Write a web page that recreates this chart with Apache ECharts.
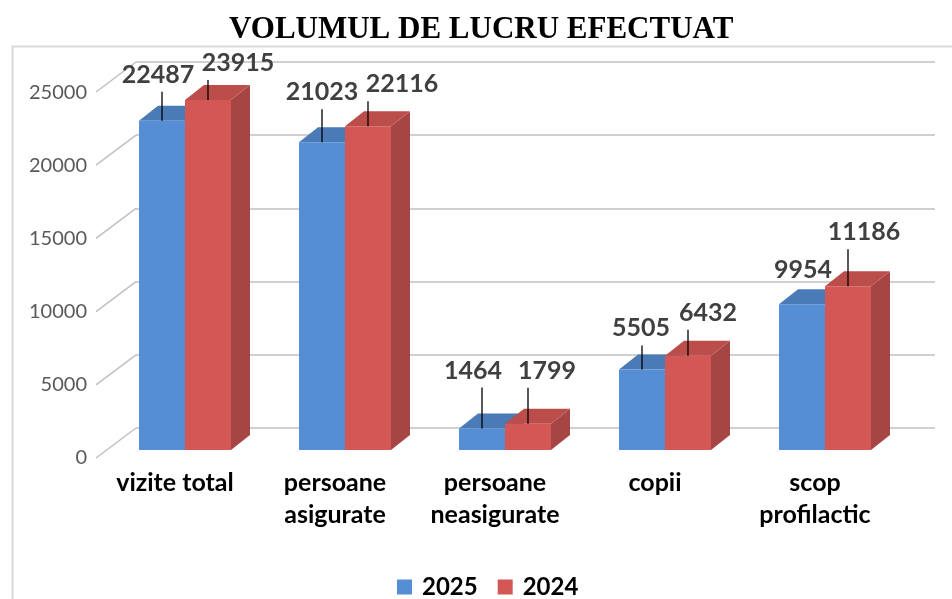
<!DOCTYPE html>
<html>
<head>
<meta charset="utf-8">
<script src="https://cdn.jsdelivr.net/npm/echarts@6/dist/echarts.min.js"></script>
<style>
  html, body { margin: 0; padding: 0; background: #fff; }
  #myChart { width: 952px; height: 599px; }
</style>
</head>
<body>
<div id="myChart"></div>
<script>
var categories = ['vizite total', 'persoane\nasigurate', 'persoane\nneasigurate', 'copii', 'scop\nprofilactic'];
var values2025 = [22487, 21023, 1464, 5505, 9954];
var values2024 = [23915, 22116, 1799, 6432, 11186];
var yTicks = [0, 5000, 10000, 15000, 20000, 25000];

var myChart = echarts.init(document.getElementById('myChart'));

// fake 3d: bar depth, and offset from the front floor edge to the back wall
var depthX = 19, depthY = 15;
var wallX = 40, wallY = 30;
var barW = 46;

// the labels were dragged around by hand in the original, so keep their shift here
var labelShift2025 = [[-4, -46], [0, -50], [-9, -58], [-1, -41], [1, -34]];
var labelShift2024 = [[30, -37], [34, -42], [19, -53], [20, -43], [16, -54]];

var blue = { front: '#558ed5', top: '#4a7bb7', side: '#3f6aa0' };
var red = { front: '#d25755', top: '#bb4d4a', side: '#a64644' };

function bar3d(side, colors, shifts) {
  return function (params, api) {
    var i = api.value(0);
    var v = api.value(1);
    var top = api.coord([i, v]);
    var base = api.coord([i, 0]);
    var x0 = side === 0 ? top[0] - barW : top[0];
    var x1 = x0 + barW;
    var y0 = top[1], y1 = base[1];
    var cx = (x0 + x1) / 2;
    var sh = shifts[params.dataIndex];
    var kids = [
      { type: 'polygon', shape: { points: [[x1, y0], [x1 + depthX, y0 - depthY], [x1 + depthX, y1 - depthY], [x1, y1]] }, style: { fill: colors.side } },
      { type: 'polygon', shape: { points: [[x0, y0], [x0 + depthX, y0 - depthY], [x1 + depthX, y0 - depthY], [x1, y0]] }, style: { fill: colors.top } },
      { type: 'rect', shape: { x: x0, y: y0, width: barW, height: y1 - y0 }, style: { fill: colors.front } }
    ];
    if (sh[1] < -35) {
      kids.push({ type: 'line', shape: { x1: cx, y1: y0 + sh[1] + 17, x2: cx, y2: y0 }, style: { stroke: '#000', lineWidth: 1.3 } });
    }
    kids.push({
      type: 'text', x: cx + sh[0], y: y0 + sh[1],
      style: { text: String(v), fontFamily: 'Lato', fontWeight: 'bold', fontSize: 25, fill: '#404040', align: 'center', verticalAlign: 'middle' }
    });
    return { type: 'group', children: kids };
  };
}

let option = {
  animation: false,
  title: {
    text: 'VOLUMUL DE LUCRU EFECTUAT',
    left: 224,
    top: 9,
    textStyle: { fontFamily: 'Liberation Serif', fontWeight: 'bold', fontSize: 31, color: '#000' }
  },
  graphic: [{
    type: 'rect', left: 10, top: 44, z: -10,
    shape: { width: 960, height: 600 },
    style: { fill: 'none', stroke: '#d9d9d9', lineWidth: 2 }
  }],
  legend: {
    data: ['2025', '2024'],
    left: 392,
    top: 570,
    icon: 'rect',
    itemWidth: 15,
    itemHeight: 15,
    itemGap: 20,
    textStyle: { fontFamily: 'Lato', fontWeight: 'bold', fontSize: 24, color: '#000', lineHeight: 24, padding: [0, 0, 0, 5] }
  },
  grid: [
    // back wall
    { left: 136, right: 17, top: 62, bottom: 171 },
    // front plane, axis labels
    { left: 95, right: 57, top: 93, bottom: 141 },
    // bar front faces
    { left: 105, right: 47, top: 84, bottom: 149 }
  ],
  xAxis: [
    { gridIndex: 0, type: 'value', min: 0, max: 1, show: false },
    {
      gridIndex: 1, type: 'category', data: categories,
      axisLine: { show: false }, axisTick: { show: false },
      axisLabel: { margin: 9, interval: 0, fontFamily: 'Lato', fontWeight: 'bold', fontSize: 25, lineHeight: 32, color: '#000' }
    },
    { gridIndex: 2, type: 'category', data: categories, show: false }
  ],
  yAxis: [
    {
      gridIndex: 0, type: 'value', min: 0, max: 25000, interval: 5000,
      axisLine: { show: false }, axisTick: { show: false }, axisLabel: { show: false },
      splitLine: { lineStyle: { color: '#c0c0c0', width: 1.5 } }
    },
    {
      gridIndex: 1, type: 'value', min: 0, max: 25000, interval: 5000,
      axisLine: { show: false }, axisTick: { show: false }, splitLine: { show: false },
      axisLabel: { margin: 8, fontFamily: 'Lato', fontSize: 20, color: '#595959', formatter: function (v) { return String(v); } }
    },
    { gridIndex: 2, type: 'value', min: 0, max: 25000, show: false }
  ],
  series: [
    {
      name: 'walls',
      type: 'custom',
      xAxisIndex: 0, yAxisIndex: 0,
      silent: true,
      data: yTicks.map(function (t) { return [0, t]; }),
      renderItem: function (params, api) {
        var p = api.coord([0, api.value(1)]);
        return { type: 'line', shape: { x1: p[0] - wallX, y1: p[1] + wallY, x2: p[0], y2: p[1] }, style: { stroke: '#c0c0c0', lineWidth: 1.5 } };
      }
    },
    {
      name: '2025',
      type: 'custom',
      xAxisIndex: 2, yAxisIndex: 2,
      itemStyle: { color: blue.front },
      encode: { x: 0, y: 1 },
      data: values2025.map(function (v, i) { return [i, v]; }),
      renderItem: bar3d(0, blue, labelShift2025)
    },
    {
      name: '2024',
      type: 'custom',
      xAxisIndex: 2, yAxisIndex: 2,
      itemStyle: { color: red.front },
      encode: { x: 0, y: 1 },
      data: values2024.map(function (v, i) { return [i, v]; }),
      renderItem: bar3d(1, red, labelShift2024)
    }
  ]
};

myChart.setOption(option);
</script>
</body>
</html>
